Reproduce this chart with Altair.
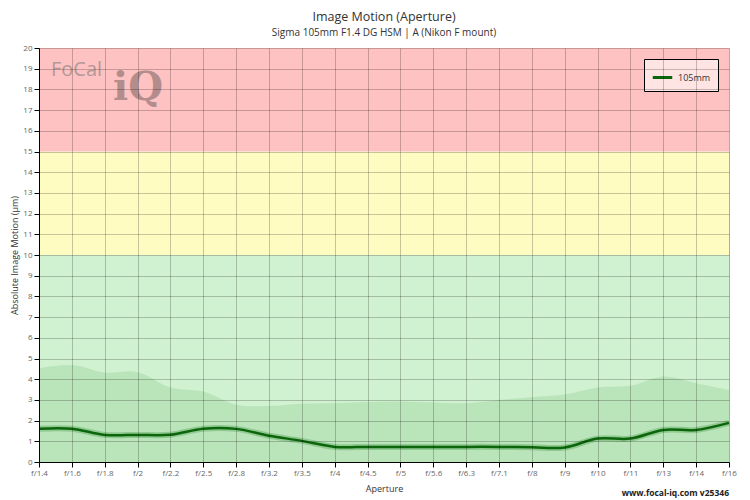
import altair as alt
import pandas as pd

apertures = ["f/1.4", "f/1.6", "f/1.8", "f/2", "f/2.2", "f/2.5", "f/2.8", "f/3.2", "f/3.5", "f/4",
             "f/4.5", "f/5", "f/5.6", "f/6.3", "f/7.1", "f/8", "f/9", "f/10", "f/11", "f/13", "f/14", "f/16"]
motion = [1.61, 1.61, 1.31, 1.31, 1.32, 1.61, 1.60, 1.27, 1.02, 0.73,
          0.73, 0.73, 0.73, 0.73, 0.73, 0.71, 0.70, 1.13, 1.13, 1.55, 1.55, 1.89]
upper = [4.53, 4.68, 4.32, 4.34, 3.60, 3.40, 2.76, 2.71, 2.82, 2.84,
         2.90, 2.92, 2.87, 2.84, 3.00, 3.13, 3.26, 3.60, 3.68, 4.13, 3.81, 3.48]
band_lo = [0, 10, 15]
band_hi = [10, 15, 20]
band_col = ["#d0f2d0", "#fffcc2", "#ffc2c2"]
series_name = "105mm"

W, H = 690, 414
FONT = "Open Sans"

df = pd.DataFrame({"ap": apertures, "m": motion, "u": upper, "z": [0] * len(apertures),
                   "series": [series_name] * len(apertures)})
bands = pd.DataFrame({"lo": band_lo, "hi": band_hi, "c": band_col})

xenc = alt.X("ap:N", sort=apertures, title="Aperture",
             scale=alt.Scale(type="point", padding=0),
             axis=alt.Axis(labelAngle=0, grid=True, gridColor="#000", gridOpacity=0.22,
                           domainColor="#000", tickColor="#000", tickSize=5,
                           labelColor="#666", labelFontSize=8, labelFont=FONT,
                           titleFont=FONT, titleFontSize=9, titleFontWeight="normal",
                           titleColor="#333", titlePadding=7, zindex=1))
yscale = alt.Scale(domain=[0, 20], nice=False)
yaxis = alt.Axis(values=list(range(0, 21)), grid=True, gridColor="#000", gridOpacity=0.22,
                 domainColor="#000", tickColor="#000", tickSize=5, labelOverlap=False,
                 labelColor="#666", labelFontSize=8, labelFont=FONT,
                 titleFont=FONT, titleFontSize=9, titleFontWeight="normal",
                 titleColor="#333", titleX=-25, titleY=H / 2, titleAlign="center",
                 titleBaseline="middle", titleAngle=270, zindex=1)
YT = "Absolute Image Motion (µm)"

band_layer = alt.Chart(bands).mark_rect().encode(
    y=alt.Y("lo:Q", scale=yscale, axis=yaxis, title=YT),
    y2="hi:Q",
    color=alt.Color("c:N", scale=None),
)

area = alt.Chart(df).mark_area(interpolate="cardinal", color="#a8d8a8", opacity=0.55).encode(
    x=xenc, y=alt.Y("u:Q", scale=yscale, axis=yaxis, title=YT), y2="z:Q")

glow = alt.Chart(df).mark_line(interpolate="cardinal", color="#2e8b2e", opacity=0.3,
                               strokeWidth=6).encode(
    x=xenc, y=alt.Y("m:Q", scale=yscale, axis=yaxis, title=YT))

line = alt.Chart(df).mark_line(interpolate="cardinal", strokeWidth=2.5).encode(
    x=xenc, y=alt.Y("m:Q", scale=yscale, axis=yaxis, title=YT),
    color=alt.Color("series:N", scale=alt.Scale(domain=[series_name], range=["#0b660b"]),
                    legend=alt.Legend(title=None, orient="top-right", offset=11,
                                      fillColor="#ffe4e4", strokeColor="#000", padding=7,
                                      symbolType="stroke", symbolStrokeWidth=3, symbolSize=380,
                                      labelFont=FONT, labelFontSize=9, labelColor="#333")))

footer = alt.Chart(pd.DataFrame({"t": ["www.focal-iq.com  v25346"]})).mark_text(
    align="right", baseline="middle", font=FONT, fontSize=8.5, fontWeight="bold", color="#222"
).encode(x=alt.value(W), y=alt.value(H + 31), text="t:N")

logo1 = alt.Chart(pd.DataFrame({"t": ["FoCal"]})).mark_text(
    align="left", baseline="middle", font=FONT, fontSize=20, color="#a09090", opacity=0.8
).encode(x=alt.value(12), y=alt.value(22), text="t:N")

logo2 = alt.Chart(pd.DataFrame({"t": ["iQ"]})).mark_text(
    align="left", baseline="middle", font="DejaVu Serif", fontSize=40, fontWeight="bold",
    color="#9a7a7a", opacity=0.75
).encode(x=alt.value(74), y=alt.value(40), text="t:N")

chart = alt.layer(band_layer, area, glow, line, logo1, logo2, footer).properties(
    width=W, height=H,
    title=alt.TitleParams("Image Motion (Aperture)",
                          subtitle="Sigma 105mm F1.4 DG HSM | A (Nikon F mount)",
                          font=FONT, fontSize=12.5, fontWeight="normal", color="#333",
                          subtitleFont=FONT, subtitleFontSize=10, subtitleColor="#333",
                          anchor="middle", offset=6, subtitlePadding=5),
    autosize=alt.AutoSizeParams(type="none"),
    padding={"left": 31, "top": 40, "right": 13, "bottom": 38},
).configure_view(stroke="#cccccc", strokeWidth=1).configure(background="white")

chart.save("out.html", embed_options={"renderer": "svg", "actions": False})
